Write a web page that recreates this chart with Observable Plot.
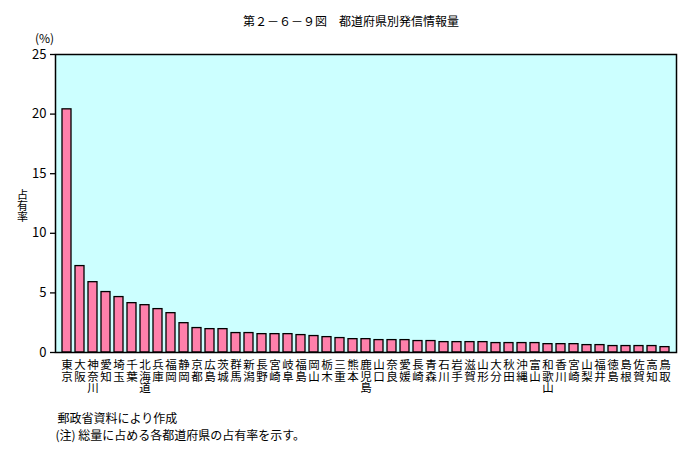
<!DOCTYPE html>
<html>
<head>
<meta charset="utf-8">
<script src="https://cdn.jsdelivr.net/npm/d3@7"></script>
<script src="https://cdn.jsdelivr.net/npm/@observablehq/plot@0.6"></script>
<style>
  html, body { margin: 0; padding: 0; background: #fff; }
  #chart { width: 699px; height: 459px; }
</style>
</head>
<body>
<div id="chart"></div>
<script>
const prefectures = ["東京","大阪","神奈川","愛知","埼玉","千葉","北海道","兵庫","福岡","静岡",
  "京都","広島","茨城","群馬","新潟","長野","宮崎","岐阜","福島","岡山",
  "栃木","三重","熊本","鹿児島","山口","奈良","愛媛","長崎","青森","石川",
  "岩手","滋賀","山形","大分","秋田","沖縄","富山","和歌山","香川","宮崎",
  "山梨","福井","徳島","島根","佐賀","高知","鳥取"];
const shares = [20.4, 7.25, 5.9, 5.07, 4.65, 4.14, 3.97, 3.64, 3.3, 2.46,
  2.05, 1.96, 1.96, 1.63, 1.63, 1.54, 1.54, 1.54, 1.46, 1.38,
  1.29, 1.21, 1.12, 1.12, 1.04, 1.04, 1.04, 0.96, 0.96, 0.87,
  0.87, 0.87, 0.87, 0.79, 0.79, 0.79, 0.79, 0.70, 0.70, 0.70,
  0.62, 0.62, 0.54, 0.54, 0.54, 0.54, 0.45];
const yTicks = [0, 5, 10, 15, 20, 25];
const titleText = "第２－６－９図　都道府県別発信情報量";
const unitText = "(%)";
const yLabelText = "占有率";
const sourceText = "郵政省資料により作成";
const noteText = "(注) 総量に占める各都道府県の占有率を示す。";

const data = prefectures.map((name, i) => ({i, name, value: shares[i]}));
const font = "'Noto Sans CJK JP', 'Noto Sans', sans-serif";

const chart = Plot.plot({
  width: 699,
  height: 459,
  marginLeft: 55,
  marginRight: 23,
  marginTop: 54,
  marginBottom: 107,
  style: {fontFamily: font, fontSize: "12px", background: "#fff", color: "#000"},
  x: {type: "band", domain: d3.range(prefectures.length), padding: 0.28, align: 0.5, axis: null},
  y: {domain: [0, 25], axis: null},
  marks: [
    Plot.frame({fill: "#ccffff", stroke: null}),
    Plot.barY(data, {x: "i", y: "value", fill: "#ff80ab", stroke: "#000", strokeWidth: 1.3}),
    Plot.frame({stroke: "#000", strokeWidth: 1.5}),
    Plot.axisY({ticks: yTicks, tickSize: 5, tickPadding: 4, fontSize: 13, label: null, stroke: "#000", strokeWidth: 1.3}),
    Plot.text(data, {x: "i", y: () => 0, text: d => Array.from(d.name).join("\n"),
      lineAnchor: "top", dy: 8, lineHeight: 1.02, fontSize: 11.5, fill: "#000"}),
    Plot.text([yLabelText], {frameAnchor: "left", text: d => Array.from(d).join("\n"),
      dx: -33, dy: 3, lineAnchor: "middle", lineHeight: 1.0, fontSize: 11, textAnchor: "middle"}),
    Plot.text([unitText], {frameAnchor: "top-left", dx: -11, dy: -20, fontSize: 12, textAnchor: "middle"}),
    Plot.text([titleText], {frameAnchor: "top", dx: -15, dy: -37, fontSize: 12, textAnchor: "middle"}),
    Plot.text([sourceText], {frameAnchor: "bottom-left", dx: 2, dy: 70, fontSize: 12, textAnchor: "start"}),
    Plot.text([noteText], {frameAnchor: "bottom-left", dx: 0, dy: 87, fontSize: 12, textAnchor: "start"})
  ]
});
document.getElementById("chart").appendChild(chart);
</script>
</body>
</html>
